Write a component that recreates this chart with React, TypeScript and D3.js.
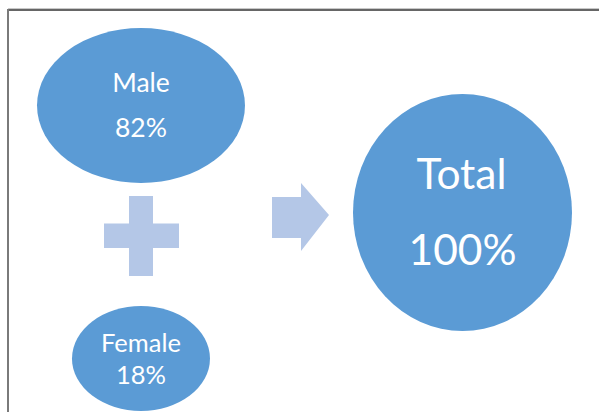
import React, { useRef, useEffect } from 'react';
import * as d3 from 'd3';

// values
const categories = ['Male', 'Female'];
const shares = [82, 18];
const totalLabel = ['Total'];
const totalShare = [100];

const W = 599;
const H = 412;

function App() {
  const ref = useRef<SVGSVGElement>(null);

  useEffect(() => {
    const svg = d3.select(ref.current);
    svg.selectAll('*').remove();

    const blue = '#5b9bd5';
    const pale = '#b4c7e7';
    const font = 'Lato, "Open Sans", sans-serif';
    const fmt = (d: number) => d + '%';

    // frame
    svg.append('line').attr('x1', 8).attr('x2', W).attr('y1', 8.5).attr('y2', 8.5)
      .attr('stroke', '#c8c8c8').attr('stroke-width', 1);
    svg.append('line').attr('x1', 8).attr('x2', W).attr('y1', 10).attr('y2', 10)
      .attr('stroke', '#333').attr('stroke-width', 1.6);
    svg.append('line').attr('x1', 8).attr('x2', 8).attr('y1', 9).attr('y2', H)
      .attr('stroke', '#7a7a7a').attr('stroke-width', 2);

    // left column: one ellipse per category
    const y = d3.scaleOrdinal<string, number>().domain(categories).range([105.5, 358.5]);
    const rx = d3.scaleOrdinal<string, number>().domain(categories).range([104, 69]);
    const ry = d3.scaleOrdinal<string, number>().domain(categories).range([77.5, 52.5]);
    const cx = 141;

    const g = svg.append('g');
    g.selectAll('ellipse.cat')
      .data(categories)
      .enter().append('ellipse')
      .attr('class', 'cat')
      .attr('cx', cx)
      .attr('cy', d => y(d))
      .attr('rx', d => rx(d))
      .attr('ry', d => ry(d))
      .attr('fill', blue);

    const nameOffset = [-13.5, -6.5];
    const valueOffset = [31.5, 25.5];
    const sizes = [26.5, 25.5];

    g.selectAll('text.name')
      .data(categories)
      .enter().append('text')
      .attr('class', 'name')
      .attr('x', cx)
      .attr('y', (d, i) => y(d) + nameOffset[i])
      .attr('text-anchor', 'middle')
      .attr('font-family', font)
      .attr('font-size', (d, i) => sizes[i])
      .attr('fill', '#fff')
      .text(d => d);

    g.selectAll('text.val')
      .data(shares)
      .enter().append('text')
      .attr('class', 'val')
      .attr('x', cx)
      .attr('y', (d, i) => y(categories[i]) + valueOffset[i])
      .attr('text-anchor', 'middle')
      .attr('font-family', font)
      .attr('font-size', (d, i) => sizes[i])
      .attr('fill', '#fff')
      .text(fmt);

    // plus sign
    const plus = 'M129,196 H153 V223.5 H179 V248 H153 V276 H129 V248 H104 V223.5 H129 Z';
    svg.append('path').attr('d', plus).attr('fill', pale);

    // arrow
    const arrow = 'M272,197 H301 V183 L329,215 L301,251 V238 H272 Z';
    svg.append('path').attr('d', arrow).attr('fill', pale);

    // total circle
    const tx = 462.5;
    const ty = 212.5;
    const t = svg.append('g');
    t.append('ellipse')
      .attr('cx', tx).attr('cy', ty).attr('rx', 109.5).attr('ry', 118.5)
      .attr('fill', blue);
    t.selectAll('text.tl')
      .data(totalLabel)
      .enter().append('text')
      .attr('class', 'tl')
      .attr('x', tx - 1)
      .attr('y', 189)
      .attr('text-anchor', 'middle')
      .attr('font-family', font)
      .attr('font-size', 42.5)
      .attr('fill', '#fff')
      .text(d => d);
    t.selectAll('text.tv')
      .data(totalShare)
      .enter().append('text')
      .attr('class', 'tv')
      .attr('x', tx)
      .attr('y', 265)
      .attr('text-anchor', 'middle')
      .attr('font-family', font)
      .attr('font-size', 42.5)
      .attr('fill', '#fff')
      .text(fmt);
  }, []);

  return (
    <svg ref={ref} width={W} height={H}
      style={{ position: 'absolute', left: 0, top: 0, background: '#fff' }} />
  );
}

export default App;
